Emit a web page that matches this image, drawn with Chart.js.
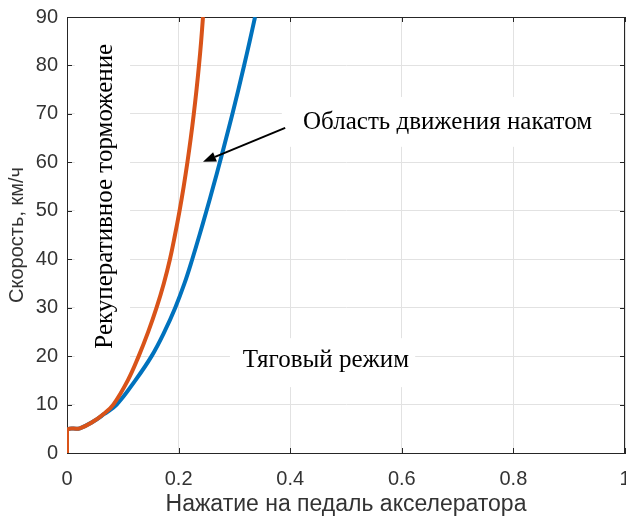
<!DOCTYPE html>
<html>
<head>
<meta charset="utf-8">
<script src="https://cdn.jsdelivr.net/npm/chart.js@4"></script>
<style>
  html, body { margin: 0; padding: 0; background: #fff; }
  canvas { display: block; }
</style>
</head>
<body>
<canvas id="chart" width="626" height="518"></canvas>
<script>
// pedal position vs speed
const regenX = [0, 0, 0.023, 0.047, 0.065, 0.083, 0.109, 0.1285, 0.1455, 0.1605, 0.1735, 0.1845, 0.1935, 0.2017, 0.2091, 0.2158, 0.2218, 0.2272, 0.2321, 0.2365, 0.2404, 0.2437];
const regenY = [0, 4.7, 5.1, 6.5, 8.0, 10, 15, 20, 25, 30, 35, 40, 45, 50, 55, 60, 65, 70, 75, 80, 85, 90];
const tractionX = [0, 0, 0.023, 0.047, 0.066, 0.089, 0.1225, 0.1516, 0.1745, 0.194, 0.2105, 0.2245, 0.2375, 0.25, 0.2621, 0.2739, 0.2853, 0.2964, 0.3071, 0.3174, 0.3274, 0.337];
const tractionY = [0, 4.7, 5.1, 6.5, 8.0, 10, 15, 20, 25, 30, 35, 40, 45, 50, 55, 60, 65, 70, 75, 80, 85, 90];

const xTickLabels = ['0', '0.2', '0.4', '0.6', '0.8', '1'];
const yTickLabels = ['0', '10', '20', '30', '40', '50', '60', '70', '80', '90'];

const xTitle = 'Нажатие на педаль акселератора';
const yTitle = 'Скорость, км/ч';

// text labels inside the plot (data units), with the white box behind each
const notes = [
  { text: 'Область движения накатом', x: 0.682, y: 68.3, rot: 0, box: [0.385, 0.973, 63.2, 73.5] },
  { text: 'Тяговый режим', x: 0.464, y: 19.2, rot: 0, box: [0.292, 0.624, 13.6, 23.7] },
  { text: 'Рекуперативное торможение', x: 0.068, y: 53.0, rot: -Math.PI / 2, box: [0.014, 0.113, 6.8, 89] }
];
const arrow = { from: [0.391, 67.1], to: [0.2437, 60.1] };

const toPts = (xs, ys) => xs.map((x, i) => ({ x: x, y: ys[i] }));

const axisColor = '#262626';
const sansFont = "'Liberation Sans', Arial, sans-serif";
const serifFont = "'Liberation Serif', 'Times New Roman', serif";

const decorPlugin = {
  id: 'decor',
  beforeDraw(chart) {
    const ctx = chart.ctx;
    ctx.save();
    ctx.fillStyle = '#fff';
    ctx.fillRect(0, 0, chart.width, chart.height);
    ctx.restore();
  },
  beforeDatasetsDraw(chart) {
    const { ctx, scales: { x, y }, chartArea: a } = chart;
    ctx.save();
    // white boxes over the grid
    ctx.fillStyle = '#fff';
    notes.forEach(n => {
      const l = x.getPixelForValue(n.box[0]), r = x.getPixelForValue(n.box[1]);
      const b = y.getPixelForValue(n.box[2]), t = y.getPixelForValue(n.box[3]);
      ctx.fillRect(l, t, r - l, b - t);
    });
    // frame and inward ticks
    ctx.strokeStyle = axisColor;
    ctx.lineWidth = 1;
    ctx.strokeRect(a.left + 0.5, a.top + 0.5, a.right - a.left - 1, a.bottom - a.top);
    const tl = 5;
    ctx.beginPath();
    x.ticks.forEach(t => {
      const px = Math.round(x.getPixelForValue(t.value)) + 0.5;
      ctx.moveTo(px, a.bottom); ctx.lineTo(px, a.bottom - tl);
      ctx.moveTo(px, a.top); ctx.lineTo(px, a.top + tl);
    });
    y.ticks.forEach(t => {
      const py = Math.round(y.getPixelForValue(t.value)) + 0.5;
      ctx.moveTo(a.left, py); ctx.lineTo(a.left + tl, py);
      ctx.moveTo(a.right, py); ctx.lineTo(a.right - tl, py);
    });
    ctx.stroke();
    // texts
    ctx.fillStyle = '#000';
    ctx.font = '25px ' + serifFont;
    ctx.textAlign = 'center';
    ctx.textBaseline = 'middle';
    notes.forEach(n => {
      ctx.save();
      ctx.translate(x.getPixelForValue(n.x), y.getPixelForValue(n.y));
      ctx.rotate(n.rot);
      ctx.fillText(n.text, 0, 0);
      ctx.restore();
    });
    ctx.restore();
  },
  afterDatasetsDraw(chart) {
    const { ctx, scales: { x, y } } = chart;
    const x0 = x.getPixelForValue(arrow.from[0]), y0 = y.getPixelForValue(arrow.from[1]);
    const x1 = x.getPixelForValue(arrow.to[0]), y1 = y.getPixelForValue(arrow.to[1]);
    const ang = Math.atan2(y1 - y0, x1 - x0);
    const hl = 13, hw = 5;
    const bx = x1 - hl * Math.cos(ang), by = y1 - hl * Math.sin(ang);
    ctx.save();
    ctx.strokeStyle = '#000';
    ctx.fillStyle = '#000';
    ctx.lineWidth = 2;
    ctx.beginPath();
    ctx.moveTo(x0, y0);
    ctx.lineTo(bx, by);
    ctx.stroke();
    ctx.beginPath();
    ctx.moveTo(x1, y1);
    ctx.lineTo(bx + hw * Math.sin(ang), by - hw * Math.cos(ang));
    ctx.lineTo(bx - hw * Math.sin(ang), by + hw * Math.cos(ang));
    ctx.closePath();
    ctx.fill();
    ctx.restore();
  }
};

new Chart(document.getElementById('chart').getContext('2d'), {
  type: 'line',
  data: {
    datasets: [
      {
        label: 'regen',
        data: toPts(regenX, regenY),
        borderColor: '#D95319',
        borderWidth: 4,
        pointRadius: 0,
        tension: 0.4,
        fill: false
      },
      {
        label: 'traction',
        data: toPts(tractionX, tractionY),
        borderColor: '#0072BD',
        borderWidth: 4,
        pointRadius: 0,
        tension: 0.4,
        fill: false
      }
    ]
  },
  options: {
    responsive: false,
    animation: false,
    layout: { padding: { top: 17, right: 1, left: 0, bottom: 0 } },
    plugins: {
      legend: { display: false },
      tooltip: { enabled: false }
    },
    scales: {
      x: {
        type: 'linear',
        min: 0,
        max: 1,
        afterBuildTicks: s => { s.ticks = xTickLabels.map(v => ({ value: parseFloat(v) })); },
        ticks: {
          callback: (v, i) => xTickLabels[i],
          color: '#333',
          padding: 14,
          maxRotation: 0,
          autoSkip: false,
          font: { family: sansFont, size: 20 }
        },
        grid: { color: '#e2e2e2', drawTicks: false },
        border: { color: axisColor },
        title: {
          display: true,
          text: xTitle,
          color: '#333',
          padding: { top: 0, bottom: 0 },
          font: { family: sansFont, size: 23 }
        },
        afterFit: s => { s.height = 65; s.paddingLeft = 0; s.paddingRight = 0; }
      },
      y: {
        min: 0,
        max: 90,
        afterBuildTicks: s => { s.ticks = yTickLabels.map(v => ({ value: parseFloat(v) })); },
        ticks: {
          callback: (v, i) => yTickLabels[i],
          color: '#333',
          padding: 9,
          font: { family: sansFont, size: 20 }
        },
        grid: { color: '#e2e2e2', drawTicks: false },
        border: { color: axisColor },
        title: {
          display: true,
          text: yTitle,
          color: '#333',
          padding: { top: 5, bottom: 0 },
          font: { family: sansFont, size: 20 }
        },
        afterFit: s => { s.width = 67; s.paddingTop = 0; s.paddingBottom = 0; }
      }
    }
  },
  plugins: [decorPlugin]
});
</script>
</body>
</html>
